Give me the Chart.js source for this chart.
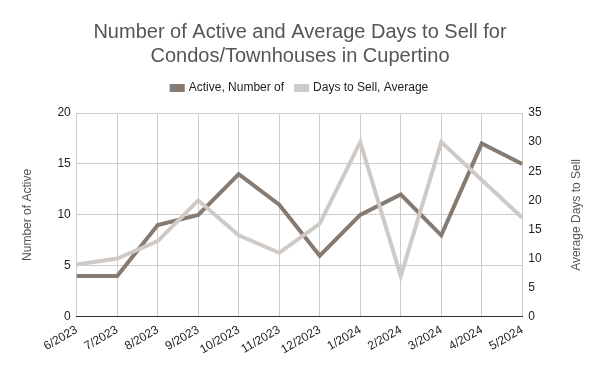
<!DOCTYPE html>
<html>
<head>
<meta charset="utf-8">
<script src="https://cdn.jsdelivr.net/npm/chart.js@4"></script>
<style>
  body { margin: 0; background: #fff; }
  #wrap { width: 600px; height: 371px; }
</style>
</head>
<body>
<div id="wrap"><canvas id="myChart"></canvas></div>
<script>
const months = ["6/2023", "7/2023", "8/2023", "9/2023", "10/2023", "11/2023", "12/2023", "1/2024", "2/2024", "3/2024", "4/2024", "5/2024"];
const activeCount = [4, 4, 9, 10, 14, 11, 6, 10, 12, 8, 17, 15];
const daysToSell = [9, 10, 13, 20, 14, 11, 16, 30, 7, 30, 23.5, 17];
const leftTicks = [0, 5, 10, 15, 20];
const rightTicks = [0, 5, 10, 15, 20, 25, 30, 35];
const rightTitle = "Average Days to Sell";

const ctx = document.getElementById("myChart");
Chart.defaults.font.family = "'Liberation Sans', Arial, sans-serif";
Chart.defaults.color = "#222";

// right axis title reads bottom-to-top like the left one
const rightTitlePlugin = {
  id: "rightTitle",
  afterDraw(chart) {
    const sc = chart.scales.y1;
    const c = chart.ctx;
    c.save();
    c.translate(sc.right - 7, (sc.top + sc.bottom) / 2);
    c.rotate(-Math.PI / 2);
    c.fillStyle = "#555";
    c.font = "12px 'Liberation Sans', Arial, sans-serif";
    c.textAlign = "center";
    c.textBaseline = "middle";
    c.fillText(rightTitle, 0, 0);
    c.restore();
  },
};

// a bit more room under the legend
const legendGap = {
  id: "legendGap",
  beforeInit(chart) {
    const fit = chart.legend.fit;
    chart.legend.fit = function () {
      fit.bind(chart.legend)();
      this.height += 9;
    };
  },
};

new Chart(ctx, {
  type: "line",
  data: {
    labels: months,
    datasets: [
      {
        label: "Active, Number of",
        data: activeCount,
        borderColor: "#857b72",
        backgroundColor: "#857b72",
        borderWidth: 4,
        pointRadius: 0,
        tension: 0,
        yAxisID: "y",
        order: 1,
      },
      {
        label: "Days to Sell, Average",
        data: daysToSell,
        borderColor: "#d0cac6",
        backgroundColor: "#d0cac6",
        borderWidth: 4,
        pointRadius: 0,
        tension: 0,
        yAxisID: "y1",
        order: 0,
      },
    ],
  },
  plugins: [rightTitlePlugin, legendGap],
  options: {
    responsive: true,
    maintainAspectRatio: false,
    animation: false,
    layout: { padding: { left: 16, right: 16, top: 10, bottom: 8 } },
    plugins: {
      title: {
        display: true,
        text: ["Number of Active and Average Days to Sell for", "Condos/Townhouses in Cupertino"],
        color: "#555",
        font: { size: 20, weight: "normal" },
        padding: { top: 10, bottom: 2 },
        lineHeight: 1.3,
      },
      legend: {
        labels: {
          boxWidth: 11,
          boxHeight: 4,
          color: "#222",
          font: { size: 12 },
          padding: 12,
          sort: (a, b) => a.datasetIndex - b.datasetIndex,
        },
      },
      tooltip: { enabled: false },
    },
    scales: {
      x: {
        grid: { color: "#ccc", drawTicks: false },
        border: { color: "#333" },
        ticks: { maxRotation: 30, minRotation: 30, font: { size: 12 }, padding: 6, color: "#222" },
      },
      y: {
        position: "left",
        min: 0,
        max: 20,
        afterBuildTicks: (axis) => { axis.ticks = leftTicks.map((v) => ({ value: v })); },
        grid: { color: "#ccc", drawTicks: false },
        border: { display: false },
        ticks: { font: { size: 12 }, padding: 6, color: "#222" },
        title: { display: true, text: "Number of Active", color: "#555", font: { size: 12 }, padding: { bottom: 17 } },
      },
      y1: {
        position: "right",
        min: 0,
        max: 35,
        afterBuildTicks: (axis) => { axis.ticks = rightTicks.map((v) => ({ value: v })); },
        grid: { drawOnChartArea: false, drawTicks: false },
        border: { display: false },
        ticks: { font: { size: 12 }, padding: 6, color: "#222" },
        title: { display: true, text: rightTitle, color: "rgba(0,0,0,0)", font: { size: 12 }, padding: { top: 18 } },
      },
    },
  },
});
</script>
</body>
</html>
